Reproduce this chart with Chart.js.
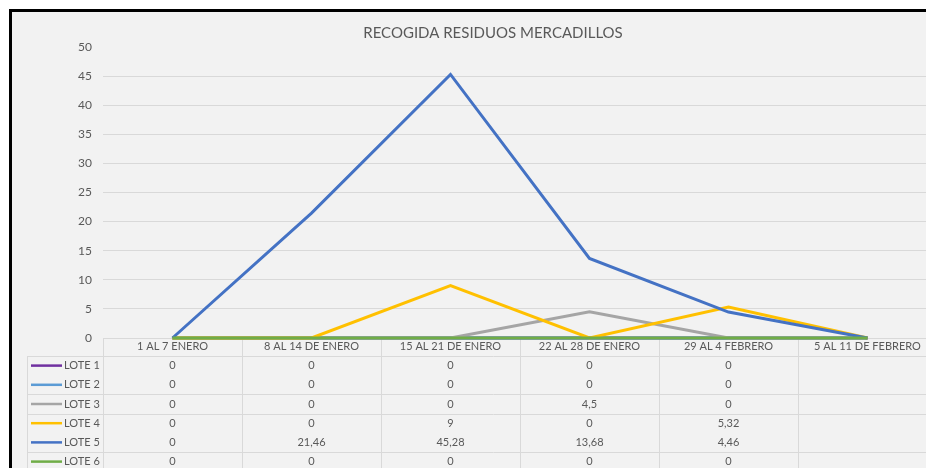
<!DOCTYPE html>
<html>
<head>
<meta charset="utf-8">
<script src="https://cdn.jsdelivr.net/npm/chart.js@4/dist/chart.umd.min.js"></script>
<style>
    html, body { margin: 0; padding: 0; background: #fff; overflow: hidden; width: 926px; height: 468px; }
    #marco { position: absolute; left: 9px; top: 9px; width: 1000px; height: 500px; border-left: 3px solid #000; border-top: 3px solid #000; background: #f2f2f2; }
    #grafico { position: absolute; left: 0; top: 0; }
</style>
</head>
<body>
<div id="marco"></div>
<canvas id="grafico" width="960" height="468" style="width:960px;height:468px"></canvas>
<script>
// Datos de la tabla (la ultima semana esta vacia en la hoja)
const titulo = 'RECOGIDA RESIDUOS MERCADILLOS';
const semanas = ['1 AL 7 ENERO', '8 AL 14 DE ENERO', '15 AL 21 DE ENERO', '22 AL 28 DE ENERO', '29 AL 4 FEBRERO', '5 AL 11 DE FEBRERO'];
const lotes = ['LOTE 1', 'LOTE 2', 'LOTE 3', 'LOTE 4', 'LOTE 5', 'LOTE 6'];
const lote1 = [0, 0, 0, 0, 0, null];
const lote2 = [0, 0, 0, 0, 0, null];
const lote3 = [0, 0, 0, 4.5, 0, null];
const lote4 = [0, 0, 9, 0, 5.32, null];
const lote5 = [0, 21.46, 45.28, 13.68, 4.46, null];
const lote6 = [0, 0, 0, 0, 0, null];
const colores = ['#7030a0', '#5b9bd5', '#a5a5a5', '#ffc000', '#4472c4', '#70ad47'];
const yMax = 50;
const yPaso = 5;

const series = [lote1, lote2, lote3, lote4, lote5, lote6];
const GRIS = '#595959';
const FUENTE = 'Lato, "Open Sans", sans-serif';
// separadores de filas visibles en la captura
const separadores = [0, 2, 3, 5];

// formato con coma decimal como en la hoja
function formato(v) {
    return v === null ? '' : String(v).replace('.', ',');
}

// Dibuja titulo y tabla de datos debajo del eje X
const tablaDatos = {
    id: 'tablaDatos',
    beforeDatasetsDraw(chart) {
        const ctx = chart.ctx;
        const x = chart.scales.x;
        const area = chart.chartArea;
        const ancho = x.getPixelForValue(1) - x.getPixelForValue(0);
        const cabecera = 18;
        const filaAlto = 19.2;
        const yFilas = area.bottom + cabecera;
        const izq = 27;
        const fondo = chart.height + 10;

        ctx.save();
        ctx.fillStyle = GRIS;
        ctx.font = '15px ' + FUENTE;
        ctx.textAlign = 'center';
        ctx.textBaseline = 'middle';
        ctx.fillText(titulo, 493, 33);

        ctx.strokeStyle = '#d9d9d9';
        ctx.lineWidth = 1;
        ctx.beginPath();
        ctx.moveTo(area.left, Math.round(area.bottom) + 0.5);
        ctx.lineTo(chart.width, Math.round(area.bottom) + 0.5);
        separadores.forEach(r => {
            const y = Math.round(yFilas + r * filaAlto) + 0.5;
            ctx.moveTo(izq, y);
            ctx.lineTo(chart.width, y);
        });
        for (let i = 0; i <= semanas.length; i++) {
            const xx = Math.round(x.getPixelForValue(0) - ancho / 2 + i * ancho) + 0.5;
            ctx.moveTo(xx, area.bottom);
            ctx.lineTo(xx, fondo);
        }
        ctx.moveTo(izq + 0.5, yFilas);
        ctx.lineTo(izq + 0.5, fondo);
        ctx.stroke();

        ctx.font = '11px ' + FUENTE;
        lotes.forEach((lote, r) => {
            const yc = yFilas + (r + 0.5) * filaAlto;
            ctx.strokeStyle = colores[r];
            ctx.lineWidth = 2.5;
            ctx.beginPath();
            ctx.moveTo(31, yc);
            ctx.lineTo(62, yc);
            ctx.stroke();
            ctx.fillStyle = GRIS;
            ctx.textAlign = 'left';
            ctx.fillText(lote, 64, yc);
            ctx.textAlign = 'center';
            series[r].forEach((v, i) => {
                ctx.fillText(formato(v), x.getPixelForValue(i), yc);
            });
        });
        ctx.restore();
    }
};

const ctx = document.getElementById('grafico').getContext('2d');
new Chart(ctx, {
    type: 'line',
    data: {
        labels: semanas,
        datasets: lotes.map((lote, i) => ({
            label: lote,
            // las celdas vacias se trazan como cero
            data: series[i].map(v => v === null ? 0 : v),
            borderColor: colores[i],
            backgroundColor: colores[i],
            borderWidth: 3,
            pointRadius: 0,
            tension: 0,
            fill: false,
            clip: 4,
            order: lotes.length - 1 - i
        }))
    },
    options: {
        responsive: false,
        animation: false,
        layout: { padding: { left: 0, top: 47, right: 23, bottom: 112 } },
        plugins: {
            legend: { display: false },
            title: { display: false },
            tooltip: { enabled: false }
        },
        scales: {
            x: {
                offset: true,
                grid: { display: false, drawTicks: false },
                border: { display: false },
                ticks: { color: GRIS, font: { family: FUENTE, size: 11 }, padding: 2, autoSkip: false, maxRotation: 0 },
                afterFit(scale) { scale.height = 18; }
            },
            y: {
                min: 0,
                max: yMax,
                grid: {
                    color: c => c.tick.value === yMax ? 'rgba(0,0,0,0)' : '#d9d9d9',
                    drawTicks: false
                },
                border: { display: false },
                ticks: { stepSize: yPaso, color: GRIS, font: { family: FUENTE, size: 12 }, padding: 11 },
                afterFit(scale) { scale.width = 103; }
            }
        }
    },
    plugins: [tablaDatos]
});
</script>
</body>
</html>
